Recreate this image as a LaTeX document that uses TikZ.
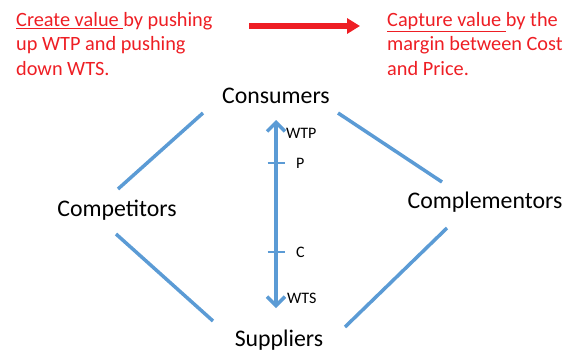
\documentclass[tikz,border=0pt]{standalone}
\usepackage{fontspec}
\setmainfont{Carlito}
\usetikzlibrary{arrows.meta}

\definecolor{linkblue}{RGB}{91,155,213}
\definecolor{notered}{RGB}{238,30,36}

\tikzset{
    party/.style={font=\fontsize{23.8}{28}\selectfont, anchor=base, inner sep=0},
    note/.style={font=\fontsize{20.3}{24.5}\selectfont, text=notered, align=left, anchor=north west, inner sep=0},
    mark label/.style={font=\fontsize{16}{19}\selectfont, anchor=base west, inner sep=0},
    link/.style={linkblue, line width=3.5pt}
}

\begin{document}
\begin{tikzpicture}[x=1pt, y=-1pt]
        \useasboundingbox (0, 0) rectangle (573, 351);

        \node[note] (Create) at (16, 12) {\underline{Create value\ }by pushing\\up WTP and pushing\\down WTS.};
        \node[note] (Capture) at (387, 12) {\underline{Capture value\ }by the\\margin between Cost\\and Price.};

        \coordinate (R1) at (249, 26);
        \coordinate (R2) at (360, 26);
        \draw[notered, line width=6pt, -{Triangle[length=13pt, width=15pt]}] (R1) -- (R2);

        \node[party] (Cons) at (276, 103) {Consumers};
        \node[party] (Comp) at (117, 216) {Competitors};
        \node[party] (Compl) at (485, 208) {Complementors};
        \node[party] (Supp) at (279, 346) {Suppliers};

        \coordinate (A) at (118, 189);
        \coordinate (B) at (203, 113);
        \coordinate (C) at (116, 234);
        \coordinate (D) at (213, 321);
        \coordinate (E) at (338, 113);
        \coordinate (F) at (442, 182);
        \coordinate (G) at (447, 228);
        \coordinate (H) at (345, 327);

        \draw[link] (A) -- (B);
        \draw[link] (C) -- (D);
        \draw[link] (E) -- (F);
        \draw[link] (G) -- (H);

        \coordinate (WTP) at (276, 120);
        \coordinate (WTS) at (276, 308);
        \coordinate (P) at (276, 163);
        \coordinate (Cst) at (276, 252);

        \draw[link, {Straight Barb[length=9pt, width=18pt, line width=3.5pt]}-{Straight Barb[length=9pt, width=18pt, line width=3.5pt]}] (WTS) -- (WTP);
        \draw[link, line width=2.5pt] ([xshift=-8.5pt]P) -- ([xshift=8.5pt]P);
        \draw[link, line width=2.5pt] ([xshift=-8.5pt]Cst) -- ([xshift=8.5pt]Cst);

        \node[mark label] (WTPl) at (286, 138) {WTP};
        \node[mark label] (Pl) at (296, 168) {P};
        \node[mark label] (Cl) at (296, 257) {C};
        \node[mark label] (WTSl) at (287, 303) {WTS};

    \end{tikzpicture}
\end{document}
